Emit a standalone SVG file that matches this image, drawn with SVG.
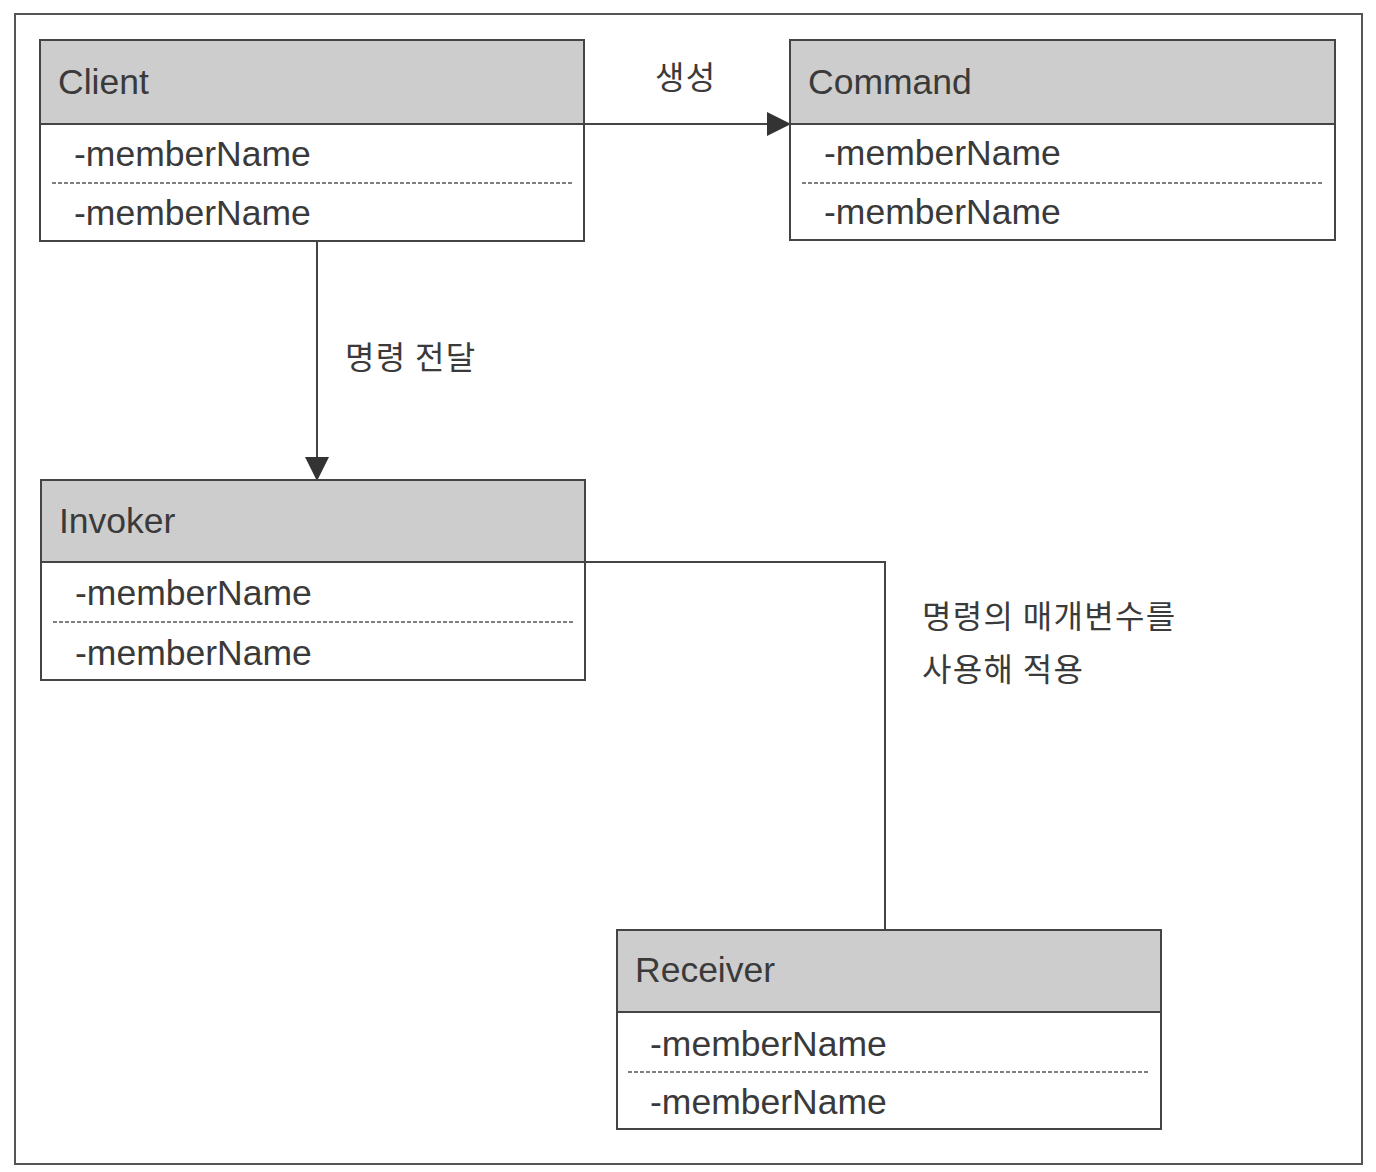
<svg xmlns="http://www.w3.org/2000/svg" width="1376" height="1172" viewBox="0 0 1376 1172">
<style>
.box{fill:#fff;stroke:#444;stroke-width:2}
.hdr{fill:#cdcdcd;stroke:#444;stroke-width:2}
.dash{stroke:#555;stroke-width:1.5;stroke-dasharray:4 2;fill:none}
.t{font-family:"Liberation Sans",Arial,sans-serif;font-size:35.5px;fill:#3a3a3a}
.k{font-family:"Noto Sans CJK KR","Noto Sans",sans-serif;font-size:32px;letter-spacing:1.3px;fill:#3a3a3a}
.ln{stroke:#444;stroke-width:2;fill:none}
</style>
<defs>
<marker id="ahd" markerWidth="24" markerHeight="24" refX="22" refY="12" orient="auto" markerUnits="userSpaceOnUse" viewBox="0 0 24 24">
<path d="M0,0 L24,12 L0,24 Z" fill="#333"/>
</marker>
</defs>
<rect x="0" y="0" width="1376" height="1172" fill="#fff"/>
<rect x="15" y="14" width="1347" height="1150" fill="none" stroke="#555" stroke-width="2"/>
<g id="connectors">
<line class="ln" x1="585" y1="124" x2="789" y2="124" marker-end="url(#ahd)"/>
<line class="ln" x1="317" y1="241" x2="317" y2="479" marker-end="url(#ahd)"/>
<polyline class="ln" points="586,562 885,562 885,930"/>
<text class="k" x="655" y="89">생성</text>
<text class="k" x="345" y="369">명령 전달</text>
<text class="k" x="922" y="628">명령의 매개변수를</text>
<text class="k" x="922" y="681">사용해 적용</text>
</g>
<g id="client">
<rect class="box" x="40" y="40" width="544" height="201"/>
<rect class="hdr" x="40" y="40" width="544" height="84"/>
<text class="t" x="58" y="94">Client</text>
<text class="t" x="74" y="166">-memberName</text>
<line class="dash" x1="52" y1="183" x2="572" y2="183"/>
<text class="t" x="74" y="225">-memberName</text>
</g>
<g id="command">
<rect class="box" x="790" y="40" width="545" height="200"/>
<rect class="hdr" x="790" y="40" width="545" height="84"/>
<text class="t" x="808" y="94">Command</text>
<text class="t" x="824" y="165">-memberName</text>
<line class="dash" x1="802" y1="183" x2="1322" y2="183"/>
<text class="t" x="824" y="224">-memberName</text>
</g>
<g id="invoker">
<rect class="box" x="41" y="480" width="544" height="200"/>
<rect class="hdr" x="41" y="480" width="544" height="82"/>
<text class="t" x="59" y="533">Invoker</text>
<text class="t" x="75" y="605">-memberName</text>
<line class="dash" x1="53" y1="622" x2="573" y2="622"/>
<text class="t" x="75" y="665">-memberName</text>
</g>
<g id="receiver">
<rect class="box" x="617" y="930" width="544" height="199"/>
<rect class="hdr" x="617" y="930" width="544" height="82"/>
<text class="t" x="635" y="982">Receiver</text>
<text class="t" x="650" y="1056">-memberName</text>
<line class="dash" x1="628" y1="1072" x2="1149" y2="1072"/>
<text class="t" x="650" y="1114">-memberName</text>
</g>
</svg>
